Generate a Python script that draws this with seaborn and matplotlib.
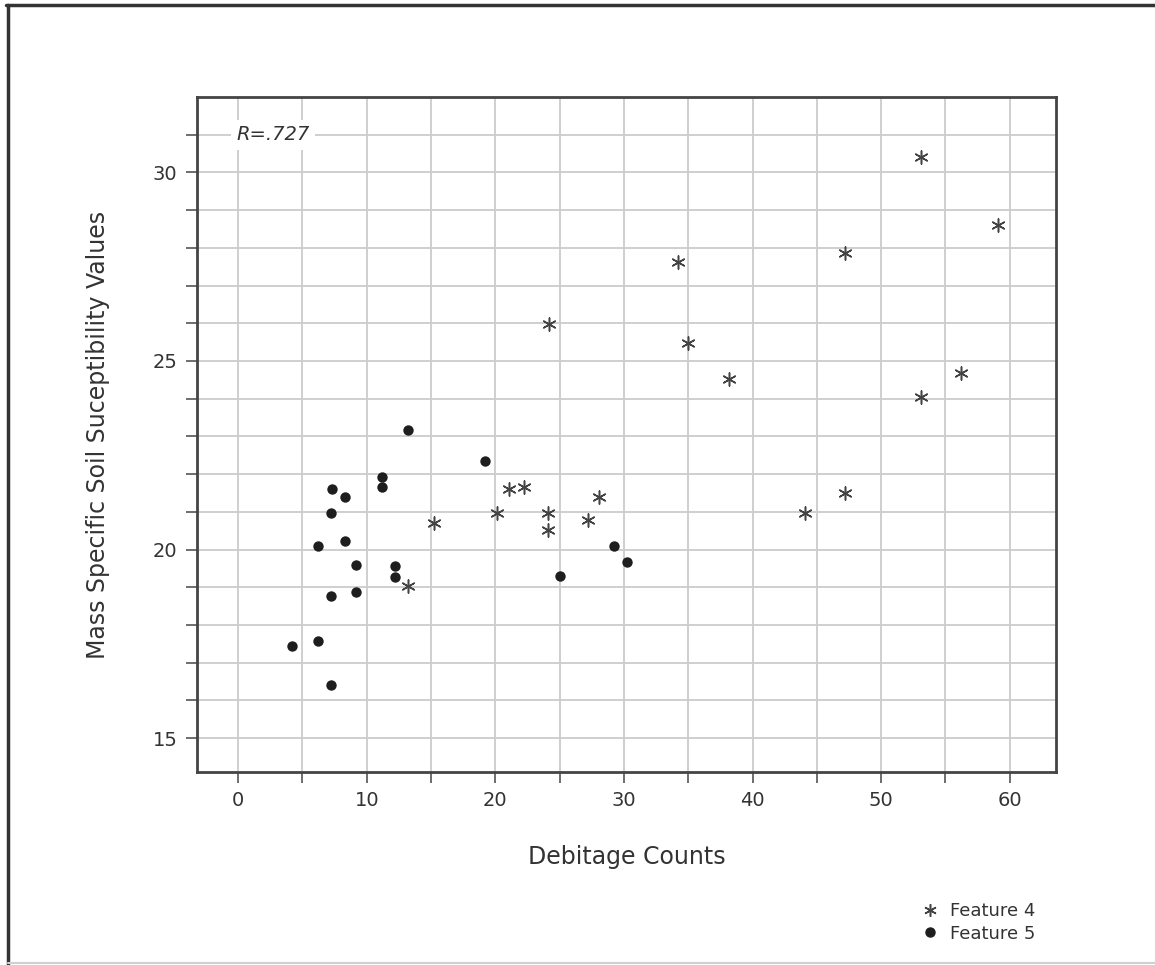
#!/usr/bin/env python3
"""
Debitage counts vs. mass specific soil susceptibility (Features 4 and 5).
"""

import matplotlib
matplotlib.use("Agg")
import matplotlib.pyplot as plt
import pandas as pd
import seaborn as sns
from matplotlib.lines import Line2D

# Feature 4 (asterisks)
F4_COUNTS = [24.2, 34.2, 35.0, 38.2, 53.1, 59.1, 47.2, 53.1, 56.2, 44.1,
             47.2, 15.2, 13.2, 20.1, 21.1, 22.2, 24.1, 24.1, 27.2, 28.1]
F4_SUSC = [25.98, 27.62, 25.48, 24.52, 30.42, 28.60, 27.86, 24.04, 24.69, 20.97,
           21.51, 20.70, 19.03, 20.97, 21.61, 21.67, 20.97, 20.52, 20.79, 21.38]

# Feature 5 (dots)
F5_COUNTS = [13.2, 19.2, 11.2, 11.2, 7.3, 8.3, 7.2, 6.2, 8.3, 9.2,
             12.2, 12.2, 9.2, 7.2, 4.2, 6.2, 7.2, 25.0, 29.2, 30.2]
F5_SUSC = [23.17, 22.35, 21.91, 21.67, 21.60, 21.39, 20.96, 20.10, 20.23, 19.60,
           19.56, 19.27, 18.88, 18.77, 17.45, 17.58, 16.42, 19.29, 20.08, 19.67]

X_TICKS = list(range(0, 61, 5))
X_LABELS = [str(v) if v % 10 == 0 else "" for v in X_TICKS]
Y_TICKS = list(range(15, 32))
Y_LABELS = [str(v) if v % 5 == 0 else "" for v in Y_TICKS]

R_LABEL = "R=.727"

TXT = "#333333"
GRID = "#cccccc"
MARK = "#1e1e1e"
STAR = "#444444"

sns.set_style("white")
plt.rcParams["font.family"] = ["DejaVu Sans"]

W, H = 1155, 965
fig = plt.figure(figsize=(W / 100, H / 100), dpi=100)
ax = fig.add_axes([197 / W, 1 - 772 / H, (1056 - 197) / W, (772 - 97) / H])

df4 = pd.DataFrame({"count": F4_COUNTS, "susc": F4_SUSC})
df5 = pd.DataFrame({"count": F5_COUNTS, "susc": F5_SUSC})

sns.scatterplot(data=df5, x="count", y="susc", ax=ax, marker="o", s=56,
                color=MARK, edgecolor=MARK, linewidth=0, zorder=3)
sns.scatterplot(data=df4, x="count", y="susc", ax=ax, marker=(6, 2, 0), s=90,
                color=STAR, linewidth=1.1, zorder=3)

ax.set_xlim(-3.2, 63.6)
ax.set_ylim(14.1, 32.0)
ax.set_xticks(X_TICKS)
ax.set_xticklabels(X_LABELS)
ax.set_yticks(Y_TICKS)
ax.set_yticklabels(Y_LABELS)
ax.grid(True, color=GRID, linewidth=1.3, zorder=0)
ax.set_axisbelow(True)
ax.tick_params(axis="both", which="major", bottom=True, left=True,
               direction="out", length=8, width=1.2, color="#555555",
               labelsize=14, labelcolor=TXT, pad=6)

for sp in ax.spines.values():
    sp.set_visible(True)
    sp.set_color("#444444")
    sp.set_linewidth(2)

ax.set_xlabel("Debitage Counts", fontsize=17, color=TXT)
ax.set_ylabel("Mass Specific Soil Suceptibility Values", fontsize=17, color=TXT)
ax.xaxis.set_label_coords(0.5, -0.108)
ax.yaxis.set_label_coords(-0.101, 0.5)

ax.text(2.7, 31.0, R_LABEL, fontsize=14, style="italic", color=TXT,
        ha="center", va="center", zorder=4,
        bbox=dict(facecolor="white", edgecolor="none", pad=4))

handles = [
    Line2D([], [], linestyle="none", marker=(6, 2, 0), markersize=9,
           markeredgewidth=1.1, color=STAR, label="Feature 4"),
    Line2D([], [], linestyle="none", marker="o", markersize=6.5,
           color=MARK, label="Feature 5"),
]
fig.legend(handles=handles, loc="upper left", bbox_to_anchor=(905 / W, 1 - 886 / H),
           frameon=False, fontsize=13, handlelength=1.0, handletextpad=0.6,
           labelspacing=0.25, labelcolor=TXT)

# page frame
fig.add_artist(Line2D([7.5 / W, 7.5 / W], [0, 1 - 4.5 / H], color="#333333", linewidth=2.5))
fig.add_artist(Line2D([6 / W, 1], [1 - 4.5 / H, 1 - 4.5 / H], color="#333333", linewidth=2.5))
fig.add_artist(Line2D([7.5 / W, 1], [2 / H, 2 / H], color="#d0d0d0", linewidth=1.5))

fig.savefig("out.png", dpi=100)
